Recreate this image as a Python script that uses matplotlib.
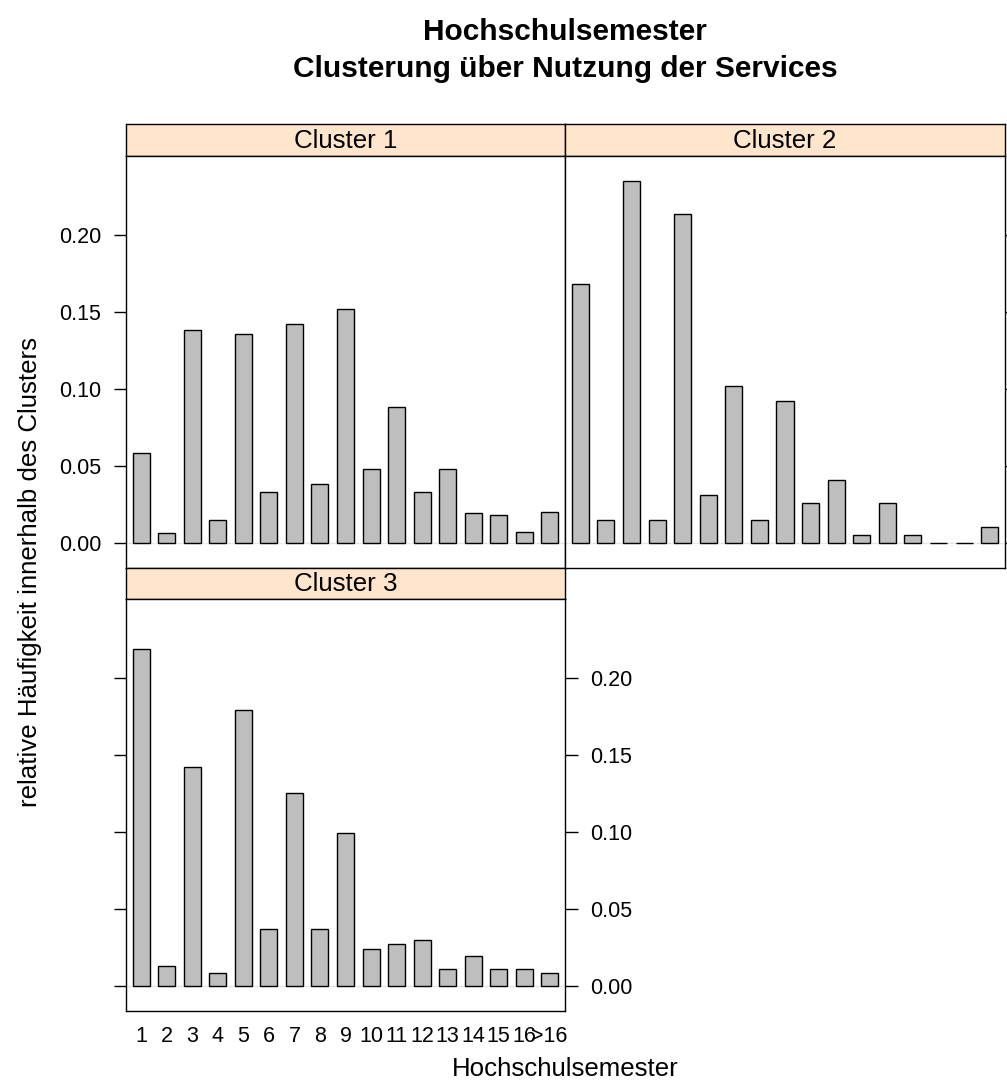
import numpy as np
import matplotlib
matplotlib.use("Agg")
import matplotlib.pyplot as plt

plt.rcParams["font.family"] = ["Liberation Sans", "DejaVu Sans"]

SEMESTER = ["1", "2", "3", "4", "5", "6", "7", "8", "9", "10",
            "11", "12", "13", "14", "15", "16", ">16"]

cluster_1 = [0.058, 0.006, 0.138, 0.015, 0.136, 0.033, 0.142, 0.038, 0.152,
             0.048, 0.088, 0.033, 0.048, 0.019, 0.018, 0.007, 0.020]
cluster_2 = [0.168, 0.015, 0.235, 0.015, 0.214, 0.031, 0.102, 0.015, 0.092,
             0.026, 0.041, 0.005, 0.026, 0.005, 0.0, 0.0, 0.010]
cluster_3 = [0.219, 0.013, 0.142, 0.008, 0.179, 0.037, 0.125, 0.037, 0.099,
             0.024, 0.027, 0.030, 0.011, 0.019, 0.011, 0.011, 0.008]

Y_TICKS = [0.0, 0.05, 0.10, 0.15, 0.20]
Y_LABELS = ["0.00", "0.05", "0.10", "0.15", "0.20"]

STRIP_COL = "#ffe5cc"
BAR_COL = "#bebebe"
W, H = 1007, 1086
TICK_FS = 15.5


def box(x0, y0, x1, y1):
    """pixel box (top-left origin) -> figure fraction rect"""
    return [x0 / W, 1 - y1 / H, (x1 - x0) / W, (y1 - y0) / H]


def strip(fig, rect, label):
    ax = fig.add_axes(rect)
    ax.set_facecolor(STRIP_COL)
    ax.set_xticks([]); ax.set_yticks([])
    for s in ax.spines.values():
        s.set_linewidth(1.0)
    ax.text(0.5, 0.47, label, ha="center", va="center", fontsize=18.6,
            transform=ax.transAxes)
    return ax


def panel(fig, rect, values, left=False, left_labels=False,
          right=False, right_labels=False, bottom_labels=False):
    ax = fig.add_axes(rect)
    x = np.arange(1, len(values) + 1)
    ax.axhline(0, color="#e6e6e6", lw=1.0, zorder=1)
    ax.bar(x, values, width=2 / 3, color=BAR_COL, edgecolor="black",
           linewidth=1.0, zorder=2)
    ax.set_xlim(0.4, len(values) + 0.6)
    ax.set_ylim(-0.0165, 0.2515)
    for s in ax.spines.values():
        s.set_linewidth(1.0)

    ax.set_yticks(Y_TICKS)
    ax.set_yticklabels(Y_LABELS)
    ax.tick_params(axis="y", direction="out", length=9, width=1.0,
                   labelsize=TICK_FS, pad=9, left=left, labelleft=left_labels,
                   right=right, labelright=right_labels)

    ax.set_xticks(x)
    if bottom_labels:
        ax.set_xticklabels(SEMESTER)
        ax.tick_params(axis="x", length=0, labelsize=TICK_FS, pad=11)
    else:
        ax.tick_params(axis="x", bottom=False, labelbottom=False)
    return ax


fig = plt.figure(figsize=(W / 100, H / 100), dpi=100)

# row 1: cluster 1 and 2, row 2: cluster 3
strip(fig, box(126, 124, 565, 156), "Cluster 1")
panel(fig, box(126, 156, 565, 568), cluster_1, left=True, left_labels=True)

strip(fig, box(565, 124, 1005, 156), "Cluster 2")
panel(fig, box(565, 156, 1005, 568), cluster_2, right=True)

strip(fig, box(126, 568, 565, 599), "Cluster 3")
panel(fig, box(126, 599, 565, 1011), cluster_3, left=True,
      right=True, right_labels=True, bottom_labels=True)

# titles are centred over the panel block (x = 126 .. 1005)
cx = 565 / W
fig.text(cx, 1 - 40 / H, "Hochschulsemester",
         ha="center", va="baseline", fontsize=21.5, fontweight="bold")
fig.text(cx, 1 - 77 / H, "Clusterung über Nutzung der Services",
         ha="center", va="baseline", fontsize=21.5, fontweight="bold")
fig.text(cx, 1 - 1069 / H, "Hochschulsemester",
         ha="center", va="center", fontsize=18.6)
fig.text(30 / W, 1 - 572 / H, "relative Häufigkeit innerhalb des Clusters",
         ha="center", va="center", rotation=90, fontsize=18.6)

fig.savefig("out.png", dpi=100)
